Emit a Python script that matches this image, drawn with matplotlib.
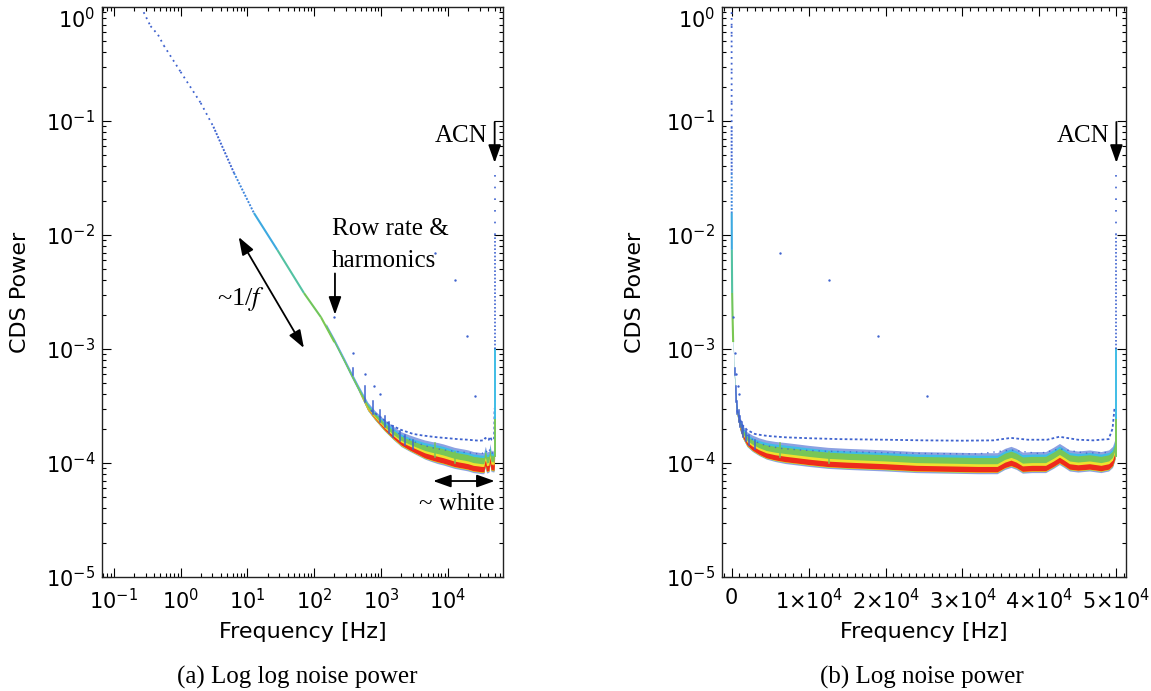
import numpy as np
import matplotlib
matplotlib.use("Agg")
import matplotlib.pyplot as plt
from matplotlib.collections import LineCollection
from matplotlib.colors import LinearSegmentedColormap, Normalize
from matplotlib.ticker import LogLocator, FixedLocator, MultipleLocator, NullFormatter, FixedFormatter

plt.rcParams['font.family'] = ['DejaVu Sans']
plt.rcParams['mathtext.fontset'] = 'dejavusans'

# ---------------- data ----------------
# low-frequency 1/f part of the spectrum
curve_f = [0.28, 0.355, 0.46, 0.56, 1.0, 2.0, 3.1, 6.3, 12.5, 28.0, 70.0, 126.0, 200.0]
curve_p = [0.90, 0.68, 0.57, 0.46, 0.27, 0.144, 0.089, 0.035, 0.0156, 0.0074, 0.0031, 0.0019, 0.00115]

# dense band of pixel spectra: densest (red) level and layer edges relative to it
band_f = [150, 200, 280, 355, 450, 630, 800, 1120, 1500, 2000, 2700, 3550, 4500, 5650, 7000,
          8500, 10000, 12500, 15000, 17500, 20000, 24000, 28000, 32000, 34500, 35500, 36300,
          37000, 37800, 39000, 40800, 41800, 42600, 43200, 43900, 45000, 46500, 48000, 49000,
          49500, 49800]
band_core = [1.57e-3, 1.15e-3, 7.8e-4, 5.9e-4, 4.5e-4, 3.0e-4, 2.5e-4, 2.0e-4, 1.7e-4, 1.48e-4,
             1.35e-4, 1.25e-4, 1.17e-4, 1.12e-4, 1.08e-4, 1.05e-4, 1.02e-4, 9.8e-5, 9.6e-5, 9.45e-5,
             9.3e-5, 9.0e-5, 8.9e-5, 8.8e-5, 8.8e-5, 9.6e-5, 1.0e-4, 9.6e-5, 8.9e-5, 9.0e-5,
             9.0e-5, 9.8e-5, 1.06e-4, 1.0e-4, 9.3e-5, 9.1e-5, 9.3e-5, 9.0e-5, 9.3e-5, 1.0e-4, 1.15e-4]
blue_lo_r = [0.975, 0.975, 0.975, 0.97, 0.97, 0.96, 0.96, 0.955, 0.95, 0.94, 0.935, 0.93, 0.925, 0.92,
             0.915, 0.915, 0.915, 0.915, 0.915, 0.915, 0.915, 0.915, 0.915, 0.915, 0.915, 0.915, 0.915,
             0.915, 0.915, 0.915, 0.915, 0.915, 0.915, 0.915, 0.915, 0.915, 0.915, 0.915, 0.915, 0.915, 0.915]
grn_lo_r = [0.98, 0.98, 0.98, 0.98, 0.98, 0.97, 0.97, 0.965, 0.96, 0.955, 0.95, 0.945, 0.94, 0.94,
            0.94, 0.94, 0.94, 0.94, 0.94, 0.94, 0.94, 0.94, 0.94, 0.94, 0.94, 0.94, 0.94,
            0.94, 0.94, 0.94, 0.94, 0.94, 0.94, 0.94, 0.94, 0.94, 0.94, 0.94, 0.94, 0.94, 0.94]
red_lo_r = [0.98, 0.98, 0.98, 0.98, 0.98, 0.99, 0.985, 0.98, 0.975, 0.97, 0.96, 0.955, 0.95, 0.95,
            0.95, 0.95, 0.95, 0.95, 0.95, 0.95, 0.95, 0.95, 0.95, 0.95, 0.95, 0.95, 0.95,
            0.95, 0.95, 0.95, 0.95, 0.95, 0.95, 0.95, 0.95, 0.95, 0.95, 0.95, 0.95, 0.95, 0.95]
red_hi_r = [0.98, 0.98, 0.98, 0.98, 0.98, 1.0, 1.005, 1.015, 1.025, 1.03, 1.04, 1.045, 1.05, 1.055,
            1.06, 1.06, 1.06, 1.06, 1.06, 1.06, 1.06, 1.06, 1.06, 1.06, 1.06, 1.06, 1.06,
            1.06, 1.06, 1.06, 1.06, 1.06, 1.06, 1.06, 1.06, 1.06, 1.06, 1.06, 1.06, 1.06, 1.06]
yel_hi_r = [0.98, 0.98, 0.98, 0.98, 0.98, 1.02, 1.03, 1.045, 1.055, 1.065, 1.08, 1.09, 1.10, 1.11,
            1.12, 1.12, 1.12, 1.12, 1.12, 1.12, 1.12, 1.12, 1.12, 1.12, 1.12, 1.12, 1.12,
            1.12, 1.12, 1.12, 1.12, 1.12, 1.12, 1.12, 1.12, 1.12, 1.12, 1.12, 1.12, 1.12, 1.12]
grn_hi_r = [1.03, 1.035, 1.04, 1.045, 1.05, 1.08, 1.09, 1.12, 1.14, 1.16, 1.18, 1.20, 1.23, 1.25,
            1.27, 1.27, 1.27, 1.27, 1.27, 1.27, 1.27, 1.27, 1.27, 1.27, 1.27, 1.27, 1.27,
            1.27, 1.27, 1.27, 1.27, 1.27, 1.27, 1.27, 1.27, 1.27, 1.27, 1.27, 1.27, 1.27, 1.27]
cyan_hi_r = [1.05, 1.055, 1.06, 1.065, 1.07, 1.11, 1.12, 1.16, 1.19, 1.21, 1.23, 1.26, 1.29, 1.31,
             1.33, 1.33, 1.33, 1.33, 1.33, 1.33, 1.33, 1.33, 1.33, 1.33, 1.33, 1.33, 1.33,
             1.33, 1.33, 1.33, 1.33, 1.33, 1.33, 1.33, 1.33, 1.33, 1.33, 1.33, 1.33, 1.33, 1.33]
blue_hi_r = [1.07, 1.075, 1.08, 1.085, 1.09, 1.14, 1.16, 1.20, 1.24, 1.27, 1.30, 1.33, 1.36, 1.38,
             1.40, 1.40, 1.40, 1.40, 1.40, 1.40, 1.40, 1.40, 1.40, 1.40, 1.40, 1.40, 1.40,
             1.40, 1.40, 1.40, 1.40, 1.40, 1.40, 1.40, 1.40, 1.40, 1.40, 1.40, 1.40, 1.40, 1.40]

# separate noisier population of pixels (upper blue trace) and sparse fringe
upper_f = [700, 1000, 1400, 2000, 3000, 4000, 5000, 7000, 10000, 14000, 20000, 25000, 30000,
           34000, 36300, 38500, 41000, 42600, 45000, 47000, 49000, 49500, 49750]
upper_p = [2.9e-4, 2.5e-4, 2.15e-4, 1.95e-4, 1.8e-4, 1.75e-4, 1.72e-4, 1.68e-4, 1.65e-4, 1.62e-4,
           1.6e-4, 1.58e-4, 1.57e-4, 1.58e-4, 1.66e-4, 1.6e-4, 1.6e-4, 1.7e-4, 1.6e-4, 1.58e-4,
           1.62e-4, 2.0e-4, 3.0e-4]
mid_f = [1500, 2000, 3000, 4500, 6500, 9000, 12000, 16000, 20000, 26000, 32000, 36300, 40000,
         42600, 46000, 49000]
mid_p = [1.95e-4, 1.75e-4, 1.55e-4, 1.42e-4, 1.34e-4, 1.3e-4, 1.27e-4, 1.25e-4, 1.23e-4, 1.21e-4,
         1.2e-4, 1.3e-4, 1.21e-4, 1.33e-4, 1.22e-4, 1.24e-4]

# row-rate harmonic spikes
spike_f = [380, 570, 760, 950, 1140, 1330, 1520, 1900, 2280, 3040, 6340, 12680]
spike_lo = [5.9e-4, 3.4e-4, 2.7e-4, 2.3e-4, 2.05e-4, 1.85e-4, 1.7e-4, 1.55e-4, 1.45e-4, 1.32e-4, 1.12e-4, 1.0e-4]
spike_hi = [6.8e-4, 4.7e-4, 3.5e-4, 2.9e-4, 2.6e-4, 2.3e-4, 2.1e-4, 1.9e-4, 1.75e-4, 1.6e-4, 1.5e-4, 1.25e-4]

# isolated outlier points
iso_f = [200, 375, 580, 770, 970, 6340, 12680, 19020, 25360]
iso_p = [1.9e-3, 9.3e-4, 6.0e-4, 4.7e-4, 4.0e-4, 6.9e-3, 4.0e-3, 1.3e-3, 3.9e-4]

# ACN spike
acn_f = 50000
acn_p = [1.15e-4, 2.5e-4, 1.0e-3, 1.0e-2, 4.0e-2]

# axis ticks
ytick_vals = [1e-5, 1e-4, 1e-3, 1e-2, 1e-1, 1e0]
xtick_a = [1e-1, 1e0, 1e1, 1e2, 1e3, 1e4]
xtick_b = [0, 10000, 20000, 30000, 40000, 50000]
xtick_b_labels = ['0', r'$1{\times}10^{4}$', r'$2{\times}10^{4}$', r'$3{\times}10^{4}$',
                  r'$4{\times}10^{4}$', r'$5{\times}10^{4}$']

# ---------------- style ----------------
BLUE = '#3f63cf'
CYAN = '#3fbde6'
GREEN = '#78c657'
YELLOW = '#eee22e'
RED = '#ee2b1c'
SERIF = 'Liberation Serif'

curve_cmap = LinearSegmentedColormap.from_list(
    'curve', [(0.0, '#b8d640'), (0.125, '#74c655'), (0.234, '#6cc560'), (0.3125, '#3cbfe0'),
              (0.469, '#3f8fe0'), (0.5625, '#3f66d2'), (1.0, '#3f60cc')])
curve_norm = Normalize(vmin=-3.2, vmax=0.0)

W, H = 1151, 691
fig = plt.figure(figsize=(W / 100, H / 100), dpi=100)
ax1 = fig.add_axes([102 / W, (H - 577) / H, 401 / W, 570 / H])
ax2 = fig.add_axes([722 / W, (H - 577) / H, 404 / W, 570 / H])


def draw_data(ax):
    f = np.array(band_f, dtype=float)
    c = np.array(band_core)
    ax.fill_between(f, c * np.array(blue_lo_r), c * np.array(blue_hi_r), color=BLUE, alpha=0.6, lw=0, zorder=2)
    ax.fill_between(f, c * np.array(grn_lo_r), c * np.array(cyan_hi_r), color=CYAN, lw=0, zorder=2.1)
    ax.fill_between(f, c * np.array(grn_lo_r), c * np.array(grn_hi_r), color=GREEN, lw=0, zorder=2.2)
    ax.fill_between(f, c * np.array(grn_lo_r), c * np.array(yel_hi_r), color=YELLOW, lw=0, zorder=2.3)
    ax.fill_between(f, c * np.array(red_lo_r), c * np.array(red_hi_r), color=RED, lw=0, zorder=2.4)

    # low-frequency curve, coloured by level
    pts = np.column_stack([curve_f, curve_p])
    segs = np.stack([pts[:-1], pts[1:]], axis=1)
    mids = np.log10(np.sqrt(np.array(curve_p[:-1]) * np.array(curve_p[1:])))
    cols = curve_cmap(curve_norm(mids))
    lc1 = LineCollection(segs[:6], colors=cols[:6], linewidths=1.3,
                         linestyles=[(0, (1, 2.2))], zorder=3)
    lc2 = LineCollection(segs[6:8], colors=cols[6:8], linewidths=1.4,
                         linestyles=[(0, (1, 0.8))], zorder=3)
    lc3 = LineCollection(segs[8:], colors=cols[8:], linewidths=1.5, zorder=3)
    for lc in (lc1, lc2, lc3):
        ax.add_collection(lc)

    ax.plot(upper_f, upper_p, color=BLUE, lw=1.3, ls=(0, (1.5, 1.3)), zorder=3)
    ax.plot(mid_f, mid_p, color=BLUE, lw=1.0, ls=(0, (1, 3.5)), alpha=0.85, zorder=3)

    for sf, lo, hi in zip(spike_f, spike_lo, spike_hi):
        col = GREEN if sf > 5000 else BLUE
        ax.plot([sf, sf], [lo, hi], color=col, lw=1.1, zorder=3.5)

    ax.scatter(iso_f, iso_p, s=3, color=BLUE, lw=0, zorder=4)

    ax.plot([acn_f, acn_f], acn_p[0:2], color=GREEN, lw=1.4, zorder=3.5)
    ax.plot([acn_f, acn_f], acn_p[1:3], color=CYAN, lw=1.4, zorder=3.5)
    ax.plot([acn_f, acn_f], acn_p[2:4], color=BLUE, lw=1.2, ls=(0, (1, 1.2)), zorder=3.5)
    ax.plot([acn_f, acn_f], acn_p[3:5], color=BLUE, lw=1.2, ls=(0, (1, 6)), zorder=3.5)


def style_axes(ax):
    ax.set_yscale('log')
    ax.set_ylim(1e-5, 1.0)
    ax.yaxis.set_major_locator(FixedLocator(ytick_vals))
    ax.yaxis.set_minor_locator(LogLocator(base=10, subs=np.arange(2, 10), numticks=20))
    ax.yaxis.set_minor_formatter(NullFormatter())
    ax.tick_params(axis='both', which='major', direction='in', length=6.5, width=0.8,
                   top=True, right=True, labelsize=15, pad=5, colors='black')
    ax.tick_params(axis='both', which='minor', direction='in', length=3.2, width=0.8,
                   top=True, right=True)
    ax.tick_params(axis='x', which='major', pad=8)
    for s in ax.spines.values():
        s.set_linewidth(1.0)
        s.set_color('#222222')


draw_data(ax1)
draw_data(ax2)

# panel a: log-log
ax1.set_xscale('log')
ax1.set_xlim(1 / 15, 1e6 / 15)
ax1.xaxis.set_major_locator(FixedLocator(xtick_a))
ax1.xaxis.set_minor_locator(LogLocator(base=10, subs=np.arange(2, 10), numticks=20))
ax1.xaxis.set_minor_formatter(NullFormatter())
style_axes(ax1)

# panel b: linear frequency
ax2.set_xlim(-1250, 51250)
ax2.xaxis.set_major_locator(FixedLocator(xtick_b))
ax2.xaxis.set_major_formatter(FixedFormatter(xtick_b_labels))
ax2.xaxis.set_minor_locator(MultipleLocator(1000))
style_axes(ax2)

for ax, ylx in ((ax1, -0.2045), (ax2, -0.215)):
    ax.set_xlabel('Frequency [Hz]', fontsize=16, va='center')
    ax.xaxis.set_label_coords(0.5, -0.0965)
    ax.set_ylabel('CDS Power', fontsize=16, va='center')
    ax.yaxis.set_label_coords(ylx, 0.5)

arrow_kw = dict(color='black', lw=1.3, shrinkA=0, shrinkB=0, mutation_scale=12)
one_head = '-|>,head_length=0.9,head_width=0.32'
two_head = '<|-|>,head_length=0.9,head_width=0.32'

# annotations panel a
ax1.text(184, 1.0e-2, 'Row rate &', family=SERIF, fontsize=18, ha='left', va='baseline')
ax1.text(184, 5.2e-3, 'harmonics', family=SERIF, fontsize=18, ha='left', va='baseline')
ax1.annotate('', xy=(204, 2.0e-3), xytext=(204, 4.6e-3), arrowprops=dict(arrowstyle=one_head, **arrow_kw))
ax1.annotate('', xy=(7.4, 9.6e-3), xytext=(70, 1.02e-3), arrowprops=dict(arrowstyle=two_head, **arrow_kw))
ax1.text(7.9, 2.75e-3, r'~1/$f$', family=SERIF, fontsize=19, ha='center', va='center', math_fontfamily='stix')
ax1.annotate('', xy=(6000, 6.95e-5), xytext=(50000, 6.95e-5), arrowprops=dict(arrowstyle=two_head, **arrow_kw))
ax1.text(49300, 3.87e-5, '~ white', family=SERIF, fontsize=18, ha='right', va='baseline')

for ax in (ax1, ax2):
    ax.annotate('', xy=(acn_f, 0.043), xytext=(acn_f, 0.098), arrowprops=dict(arrowstyle=one_head, **arrow_kw))
    ax.annotate('ACN', xy=(acn_f, 0.0654), xytext=(-5, 0), textcoords='offset points',
                family=SERIF, fontsize=18, ha='right', va='baseline')

fig.text(297 / W, 1 - 677 / H, '(a) Log log noise power', family=SERIF, fontsize=18, ha='center', va='center')
fig.text(922 / W, 1 - 677 / H, '(b) Log noise power', family=SERIF, fontsize=18, ha='center', va='center')

# keep the top (10^0) label inside the figure, as in the reference
fig.canvas.draw()
for ax in (ax1, ax2):
    ax.yaxis.get_major_ticks()[-1].label1.set_verticalalignment('top')

fig.savefig('out.png', dpi=100, facecolor='white')
